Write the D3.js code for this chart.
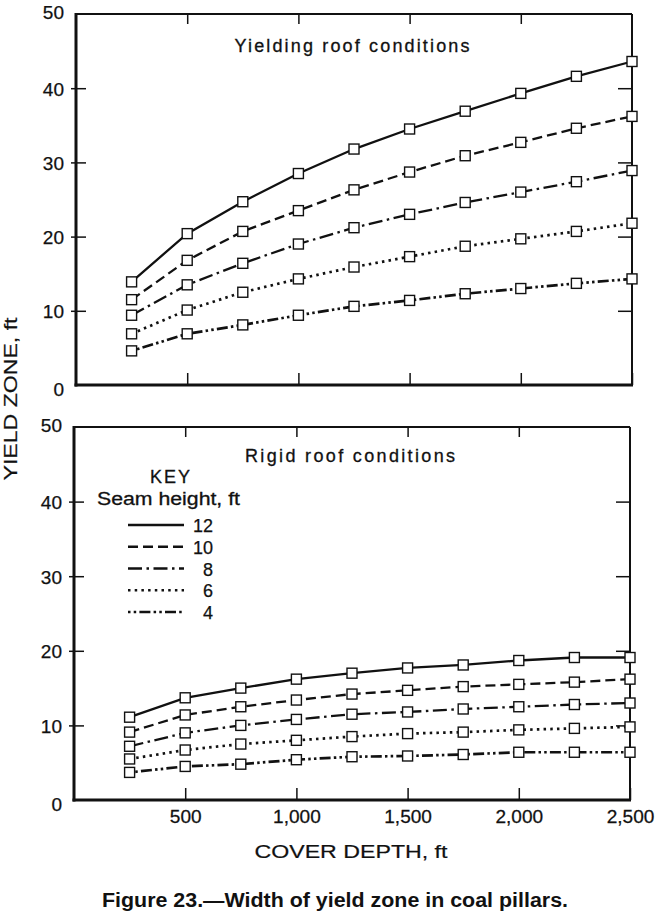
<!DOCTYPE html>
<html>
<head>
<meta charset="utf-8">
<script src="https://cdn.jsdelivr.net/npm/d3@7"></script>
<style>
  html, body { margin: 0; padding: 0; background: #fff; }
  svg { display: block; }
  text { font-family: "Liberation Sans", Arial, sans-serif; fill: #111; }
</style>
</head>
<body>
<svg id="chart" width="660" height="914"></svg>
<script>
// ---------- DATA ----------
const coverDepth = [250, 500, 750, 1000, 1250, 1500, 1750, 2000, 2250, 2500];
const seamHeights = ["12", "10", "8", "6", "4"];

// Yielding roof conditions (yield zone, ft)
const yielding12 = [13.9, 20.4, 24.7, 28.5, 31.8, 34.5, 36.9, 39.3, 41.6, 43.6];
const yielding10 = [11.5, 16.8, 20.7, 23.5, 26.3, 28.7, 30.9, 32.7, 34.6, 36.2];
const yielding8  = [9.4, 13.5, 16.4, 19.0, 21.2, 23.0, 24.6, 26.0, 27.4, 28.9];
const yielding6  = [6.9, 10.1, 12.5, 14.3, 15.9, 17.3, 18.7, 19.7, 20.7, 21.8];
const yielding4  = [4.6, 6.9, 8.1, 9.4, 10.6, 11.4, 12.3, 13.0, 13.7, 14.3];

// Rigid roof conditions (yield zone, ft)
const rigid12 = [11.1, 13.7, 15.0, 16.2, 17.0, 17.7, 18.1, 18.7, 19.1, 19.1];
const rigid10 = [9.1, 11.4, 12.5, 13.4, 14.2, 14.7, 15.2, 15.5, 15.8, 16.2];
const rigid8  = [7.2, 9.0, 10.0, 10.8, 11.5, 11.8, 12.2, 12.5, 12.8, 13.0];
const rigid6  = [5.5, 6.7, 7.5, 8.0, 8.5, 8.9, 9.1, 9.4, 9.6, 9.8];
const rigid4  = [3.7, 4.5, 4.8, 5.4, 5.8, 5.9, 6.1, 6.4, 6.4, 6.4];

const yTicks = [0, 10, 20, 30, 40, 50];
const xTicks = [500, 1000, 1500, 2000, 2500];
const panelTitles = ["Yielding roof conditions", "Rigid roof conditions"];
const yTitle = "YIELD ZONE, ft";
const xTitle = "COVER DEPTH, ft";
const caption = "Figure 23.\u2014Width of yield zone in coal pillars.";
const keyTitle = "KEY";
const keySubtitle = "Seam height, ft";

// ---------- STYLE ----------
const dashBySeam = {
  "12": null,
  "10": "10,5",
  "8": "14,4.5,2.5,4.5",
  "6": "2.5,4.2",
  "4": "2.5,3.2,2.5,3.2,11,3.2"
};
const digitFont = "'DejaVu Sans', sans-serif";
const INK = "#111";

const svg = d3.select("#chart");

function heavy(sel, w) {
  return sel.attr("stroke", INK).attr("stroke-width", w || 0.3);
}

const panels = [
  { title: panelTitles[0], series: [yielding12, yielding10, yielding8, yielding6, yielding4],
    left: 76, right: 632, top: 14, bottom: 385, titleX: 352, titleY: 52, titleW: 235, xLabels: false },
  { title: panelTitles[1], series: [rigid12, rigid10, rigid8, rigid6, rigid4],
    left: 74, right: 630, top: 427, bottom: 800, titleX: 350, titleY: 462, titleW: 210, xLabels: true }
];

panels.forEach((p) => {
  const x = d3.scaleLinear().domain([0, 2500]).range([p.left, p.right]);
  const y = d3.scaleLinear().domain([0, 50]).range([p.bottom, p.top]);
  const g = svg.append("g");

  // top axis ticks (inward)
  g.append("g").attr("transform", `translate(0,${p.top})`)
    .call(d3.axisTop(x).tickValues([500, 1000, 1500, 2000]).tickSize(-10).tickFormat(""))
    .call(s => s.select(".domain").remove())
    .call(s => s.selectAll("line").attr("stroke", INK).attr("stroke-width", 1.5));

  // bottom axis (inward ticks, labels only on lower panel)
  const bx = g.append("g").attr("transform", `translate(0,${p.bottom})`)
    .call(d3.axisBottom(x).tickValues(xTicks).tickSize(-12).tickPadding(10)
      .tickFormat(p.xLabels ? d3.format(",") : ""))
    .call(s => s.select(".domain").remove());
  bx.selectAll("line").attr("stroke", INK).attr("stroke-width", 1.5);
  bx.selectAll("text").attr("font-size", 18).attr("font-family", digitFont)
    .attr("fill", INK).attr("x", 0).attr("transform", "scale(1.06,1)")
    .call(heavy, 0.25);

  // left axis
  const ly = g.append("g").attr("transform", `translate(${p.left},0)`)
    .call(d3.axisLeft(y).tickValues(yTicks).tickSize(-10).tickPadding(12))
    .call(s => s.select(".domain").remove());
  ly.selectAll("line").attr("stroke", INK).attr("stroke-width", 1.5)
    .attr("x1", -5).filter(d => d === 0 || d === 50).remove();
  ly.selectAll("text").attr("font-size", 19).attr("font-family", digitFont)
    .attr("fill", INK)
    .attr("dy", d => (d === 0 ? "0.57em" : d === 50 ? "0.24em" : "0.36em"))
    .call(heavy, 0.25);

  // right axis (inward ticks)
  g.append("g").attr("transform", `translate(${p.right},0)`)
    .call(d3.axisRight(y).tickValues([10, 20, 30, 40]).tickSize(-14).tickFormat(""))
    .call(s => s.select(".domain").remove())
    .call(s => s.selectAll("line").attr("stroke", INK).attr("stroke-width", 1.5));

  // frame
  g.append("line").attr("x1", p.left).attr("x2", p.right).attr("y1", p.top).attr("y2", p.top)
    .attr("stroke", INK).attr("stroke-width", 2);
  g.append("line").attr("x1", p.right).attr("x2", p.right).attr("y1", p.top).attr("y2", p.bottom)
    .attr("stroke", INK).attr("stroke-width", 2);
  g.append("line").attr("x1", p.left).attr("x2", p.left).attr("y1", p.top - 1).attr("y2", p.bottom + 1.5)
    .attr("stroke", INK).attr("stroke-width", 3);
  g.append("line").attr("x1", p.left - 1.5).attr("x2", p.right + 1).attr("y1", p.bottom).attr("y2", p.bottom)
    .attr("stroke", INK).attr("stroke-width", 3);

  // panel title
  g.append("text").attr("x", p.titleX).attr("y", p.titleY).attr("text-anchor", "middle")
    .attr("font-size", 18).attr("textLength", p.titleW).attr("lengthAdjust", "spacing")
    .call(heavy, 0.3)
    .text(p.title);

  // series
  const line = d3.line().x((d, i) => x(coverDepth[i])).y(d => y(d));
  p.series.forEach((vals, si) => {
    const dash = dashBySeam[seamHeights[si]];
    g.append("path").datum(vals).attr("d", line)
      .attr("fill", "none").attr("stroke", INK)
      .attr("stroke-width", si >= 3 ? 2.7 : 2.3)
      .attr("stroke-dasharray", dash);
  });
  p.series.forEach((vals) => {
    g.append("g").selectAll("rect").data(vals).join("rect")
      .attr("x", (d, i) => x(coverDepth[i]) - 5)
      .attr("y", d => y(d) - 5)
      .attr("width", 10).attr("height", 10)
      .attr("fill", "#fff").attr("stroke", INK).attr("stroke-width", 1.4);
  });
});

// ---------- KEY ----------
const key = svg.append("g");
key.append("text").attr("x", 170).attr("y", 483).attr("text-anchor", "middle")
  .attr("font-size", 18).attr("textLength", 40).attr("lengthAdjust", "spacing")
  .call(heavy, 0.3).text(keyTitle);
key.append("text").attr("x", 97).attr("y", 505).attr("font-size", 18)
  .attr("textLength", 143).attr("lengthAdjust", "spacingAndGlyphs")
  .call(heavy, 0.3).text(keySubtitle);
const keyY = d3.scalePoint().domain(seamHeights).range([525, 612]);
seamHeights.forEach(s => {
  key.append("line").attr("x1", 128).attr("x2", 184)
    .attr("y1", keyY(s)).attr("y2", keyY(s))
    .attr("stroke", INK).attr("stroke-width", +s <= 6 ? 2.7 : 2.3)
    .attr("stroke-dasharray", dashBySeam[s]);
  key.append("text").attr("x", 213).attr("y", keyY(s) + 7)
    .attr("text-anchor", "end")
    .attr("font-size", 18).attr("font-family", digitFont)
    .call(heavy, 0.25).text(s);
});

// ---------- TITLES ----------
svg.append("text").attr("transform", "translate(17,399) rotate(-90)")
  .attr("text-anchor", "middle").attr("font-size", 18)
  .attr("textLength", 163).attr("lengthAdjust", "spacingAndGlyphs")
  .call(heavy, 0.2).text(yTitle);
svg.append("text").attr("x", 351).attr("y", 858).attr("text-anchor", "middle")
  .attr("font-size", 18).attr("textLength", 193).attr("lengthAdjust", "spacingAndGlyphs")
  .call(heavy, 0.2).text(xTitle);
svg.append("text").attr("x", 335).attr("y", 907).attr("text-anchor", "middle")
  .attr("font-size", 19.5).attr("font-weight", "bold")
  .attr("font-family", "'Liberation Sans Narrow', 'Liberation Sans', Arial, sans-serif")
  .attr("textLength", 466).attr("lengthAdjust", "spacingAndGlyphs").text(caption);
</script>
</body>
</html>
